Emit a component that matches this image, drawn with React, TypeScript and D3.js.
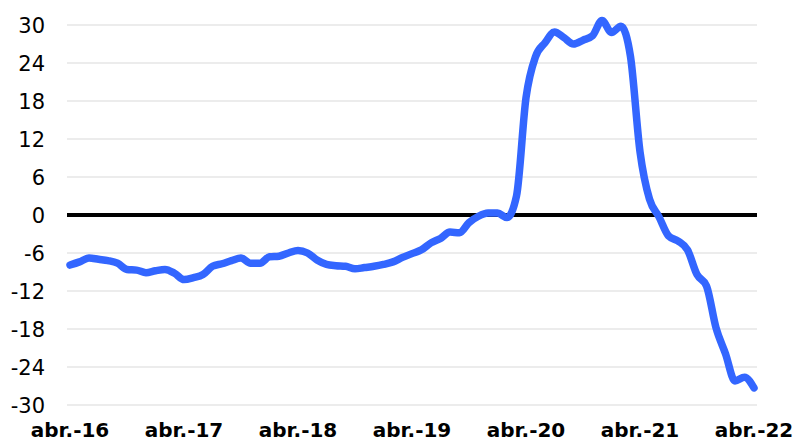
import React from 'react';
import * as d3 from 'd3';

// monthly series, abr.-16 .. abr.-22
const months: number[] = d3.range(0, 73);
const values: number[] = [
  -7.9, -7.4, -6.8, -7.0, -7.2, -7.6, -8.6, -8.7, -9.1, -8.8, -8.6, -9.2,
  -10.2, -9.9, -9.4, -8.1, -7.7, -7.2, -6.8, -7.6, -7.6, -6.6, -6.5, -6.0,
  -5.6, -6.0, -7.1, -7.8, -8.0, -8.1, -8.5, -8.3, -8.1, -7.8, -7.4, -6.7,
  -6.1, -5.5, -4.4, -3.7, -2.7, -2.8, -1.2, -0.2, 0.3, 0.3, -0.4, 3.0,
  18.5, 25.0, 27.2, 28.9, 28.0, 27.0, 27.6, 28.3, 30.7, 28.8, 29.8, 25.0,
  10.0, 2.5, -0.3, -3.3, -4.1, -5.5, -9.4, -11.2, -17.8, -21.9, -26.2, -25.6,
  -27.3,
];
const yTicks: number[] = [30, 24, 18, 12, 6, 0, -6, -12, -18, -24, -30];
const xLabels: string[] = ['abr.-16', 'abr.-17', 'abr.-18', 'abr.-19', 'abr.-20', 'abr.-21', 'abr.-22'];

const W = 799;
const H = 443;

export default function App() {
  const x = d3.scaleLinear().domain([0, 72]).range([70, 754]);
  const y = d3.scaleLinear().domain([-30, 30]).range([405, 25]);

  const line = d3.line<number>()
    .x((_, i) => x(months[i]))
    .y(d => y(d))
    .curve(d3.curveMonotoneX);

  const font = '"DejaVu Sans", Verdana, sans-serif';

  return (
    <div style={{ position: 'absolute', left: 0, top: 0 }}>
      <svg width={W} height={H} style={{ display: 'block', background: '#fff' }}>
        {/* grid */}
        {yTicks.filter(t => t !== 0).map(t => (
          <line key={t} x1={67} x2={757} y1={y(t)} y2={y(t)} stroke="#d9d9d9" strokeWidth={1} />
        ))}
        {/* y labels */}
        {yTicks.map(t => (
          <text key={'l' + t} x={45} y={y(t)} dy="0.36em" textAnchor="end"
            fontFamily={font} fontSize={21} fill="#000">{t}</text>
        ))}
        {/* zero line */}
        <line x1={67} x2={757} y1={y(0)} y2={y(0)} stroke="#000" strokeWidth={4} />
        {/* series */}
        <path d={line(values) || ''} fill="none" stroke="#3366ff" strokeWidth={7.5}
          strokeLinejoin="round" strokeLinecap="round" />
        {/* x labels */}
        {xLabels.map((lab, i) => (
          <text key={lab} x={x(i * 12)} y={437} textAnchor="middle"
            fontFamily={font} fontSize={20} fontWeight="bold" fill="#000">{lab}</text>
        ))}
      </svg>
    </div>
  );
}
